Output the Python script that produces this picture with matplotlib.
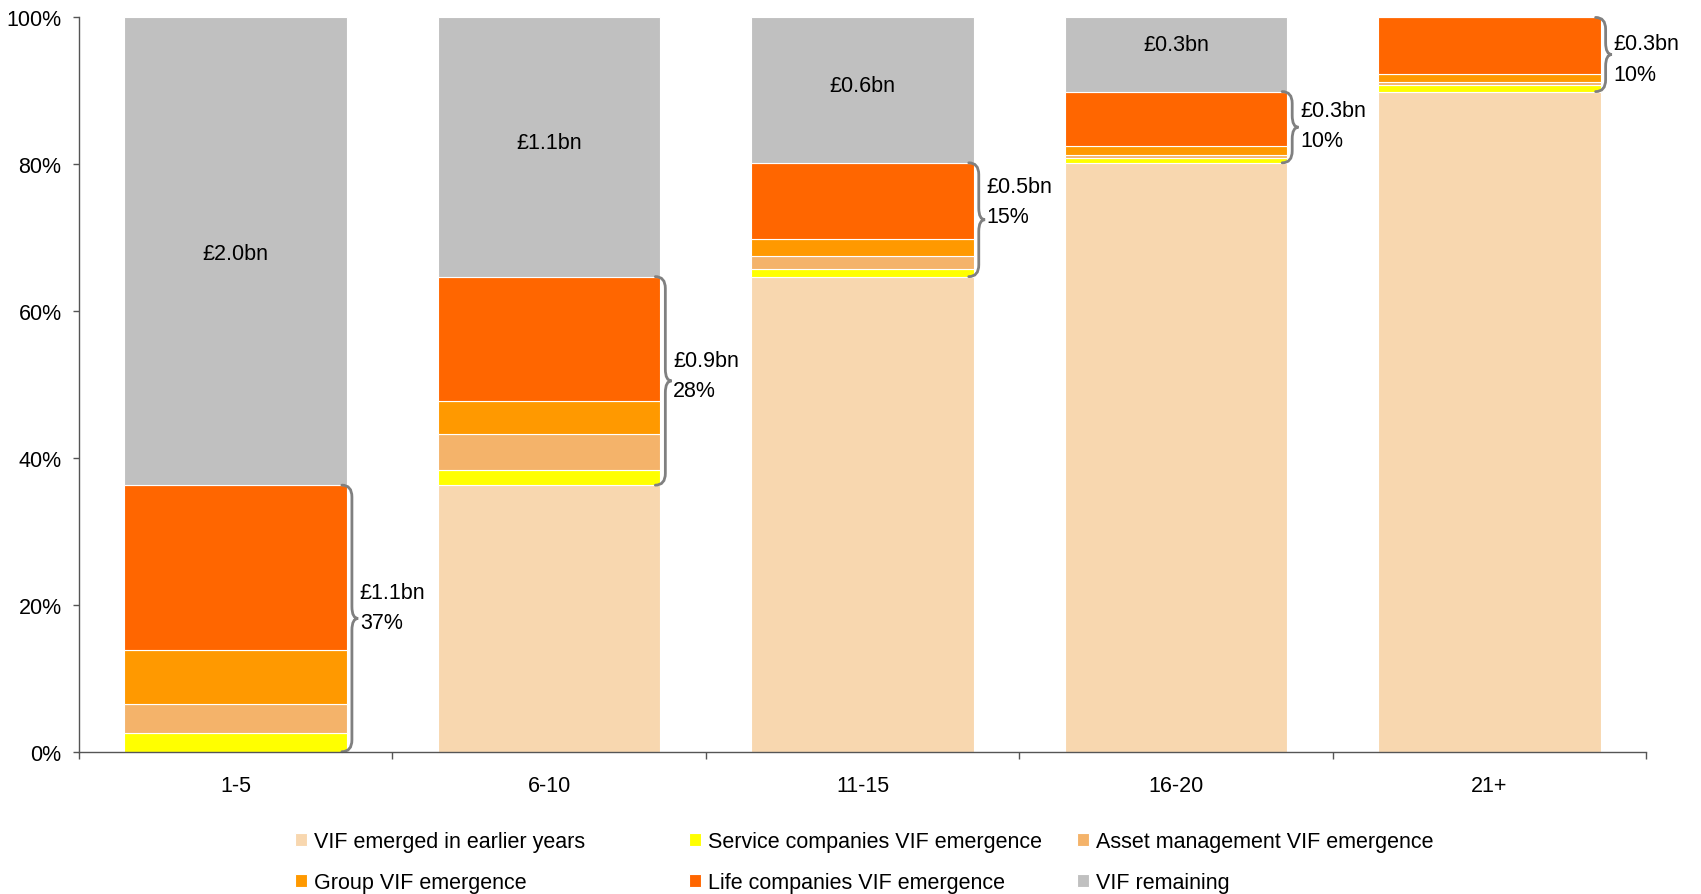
import matplotlib
matplotlib.use('Agg')
import matplotlib.pyplot as plt
import numpy as np
from matplotlib.path import Path
from matplotlib.patches import PathPatch

plt.rcParams['font.family'] = ['Liberation Sans', 'DejaVu Sans']

categories = ['1-5', '6-10', '11-15', '16-20', '21+']
earlier = [0.0, 36.3, 64.7, 80.2, 89.9]
service = [2.5, 2.1, 1.0, 0.7, 0.9]
asset = [4.0, 4.9, 1.8, 0.4, 0.4]
group = [7.4, 4.4, 2.3, 1.2, 1.1]
life = [22.4, 17.0, 10.4, 7.4, 7.7]
remaining = [63.7, 35.3, 19.8, 10.1, 0.0]

remaining_labels = ['£2.0bn', '£1.1bn', '£0.6bn', '£0.3bn', '']
emerged_labels = ['£1.1bn\n37%', '£0.9bn\n28%', '£0.5bn\n15%', '£0.3bn\n10%', '£0.3bn\n10%']

series = [
    ('VIF emerged in earlier years', earlier, '#F8D7AF'),
    ('Service companies VIF emergence', service, '#FFFF00'),
    ('Asset management VIF emergence', asset, '#F4B36A'),
    ('Group VIF emergence', group, '#FF9900'),
    ('Life companies VIF emergence', life, '#FF6600'),
    ('VIF remaining', remaining, '#C0C0C0'),
]

# small nudges of the label text (in % units), as placed in the original
grey_nudge = [-0.3, 0.6, 0.6, 1.3, 0.0]
brace_nudge = [1.5, 0.75, 2.5, 0.25, -0.6]

fs = 15.5
width = 0.71

fig = plt.figure(figsize=(17.01, 8.95), dpi=100)
ax = fig.add_axes([0.0464, 0.159, 0.9213, 0.8204])

x = np.arange(len(categories))
bottom = np.zeros(len(categories))
handles = []
for name, vals, col in series:
    b = ax.bar(x, vals, width, bottom=bottom, color=col, edgecolor='white',
               linewidth=0.8, label=name)
    handles.append(b)
    bottom += np.array(vals)

# labels in the grey part
for i, lab in enumerate(remaining_labels):
    if lab:
        yc = 100 - remaining[i] / 2 + grey_nudge[i]
        ax.text(x[i], yc, lab, ha='center', va='center', fontsize=fs)


def brace(ax, xr, y0, y1):
    x_end = xr - 0.016
    x_sp = xr + 0.016
    x_tip = xr + 0.036
    ym = (y0 + y1) / 2
    r = min(1.6, (y1 - y0) / 5)
    verts = [(x_end, y0), (x_sp, y0), (x_sp, y0 + r),
             (x_sp, ym - r), (x_sp, ym), (x_tip, ym),
             (x_sp, ym), (x_sp, ym + r),
             (x_sp, y1 - r), (x_sp, y1), (x_end, y1)]
    codes = [Path.MOVETO, Path.CURVE3, Path.CURVE3,
             Path.LINETO, Path.CURVE3, Path.CURVE3,
             Path.CURVE3, Path.CURVE3,
             Path.LINETO, Path.CURVE3, Path.CURVE3]
    p = PathPatch(Path(verts, codes), fill=False, edgecolor='#808080',
                  linewidth=2, clip_on=False, capstyle='round')
    ax.add_patch(p)
    return x_tip, ym


for i in range(len(categories)):
    y0 = earlier[i]
    y1 = earlier[i] + service[i] + asset[i] + group[i] + life[i]
    xt, ym = brace(ax, x[i] + width / 2, y0, y1)
    ax.text(xt + 0.005, ym + brace_nudge[i], emerged_labels[i], ha='left',
            va='center', fontsize=fs, linespacing=1.58, clip_on=False)

ax.set_xlim(-0.5, len(categories) - 0.5)
ax.set_ylim(0, 100)
ax.set_yticks(np.arange(0, 101, 20))
ax.set_yticklabels([f'{v}%' for v in range(0, 101, 20)], fontsize=fs)
ax.set_xticks(x)
ax.set_xticklabels(categories, fontsize=fs)
ax.set_xticks(np.arange(-0.5, len(categories), 1), minor=True)
ax.tick_params(axis='x', which='major', length=0, pad=17)
ax.tick_params(axis='x', which='minor', length=5, color='#555555', width=1)
ax.tick_params(axis='y', length=4.5, color='#555555', width=1, pad=8)
for s in ['top', 'right']:
    ax.spines[s].set_visible(False)
for s in ['left', 'bottom']:
    ax.spines[s].set_color('#555555')
    ax.spines[s].set_linewidth(1)

# legend: three columns placed like the original
col_x = [295, 689, 1077]
cols = [[0, 3], [1, 4], [2, 5]]
for cx, idx in zip(col_x, cols):
    fig.legend([handles[k] for k in idx], [series[k][0] for k in idx],
               loc='center left', bbox_to_anchor=(cx / 1701, 1 - 863 / 895),
               frameon=False, fontsize=fs, handlelength=0.55, handleheight=0.55,
               handletextpad=0.35, labelspacing=0.9, borderpad=0, borderaxespad=0)

fig.savefig('out.png', dpi=100)
